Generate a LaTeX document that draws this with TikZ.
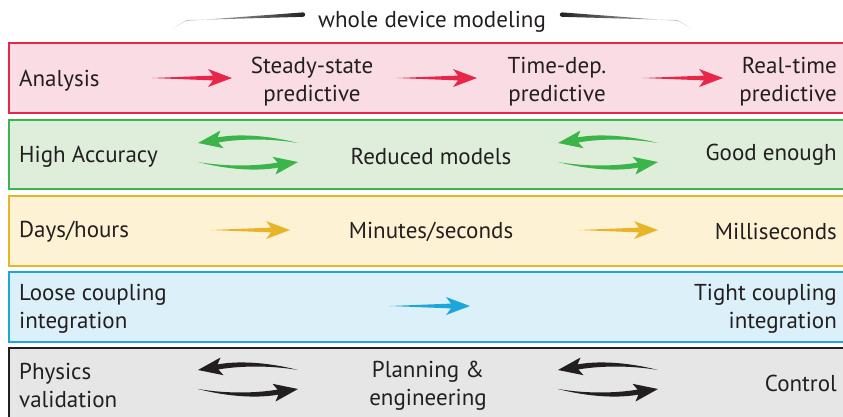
\documentclass[tikz,border=0pt]{standalone}
\usepackage{fontspec}
\setmainfont{PT Sans}
\usetikzlibrary{positioning}

\definecolor{ink}{HTML}{231F20}
\definecolor{redline}{HTML}{E8264A}
\definecolor{redfill}{HTML}{F9DCE4}
\definecolor{greenline}{HTML}{3BB54A}
\definecolor{greenfill}{HTML}{DEEEDB}
\definecolor{yellowline}{HTML}{E8B52A}
\definecolor{yellowfill}{HTML}{FDF3D4}
\definecolor{blueline}{HTML}{1DA6DA}
\definecolor{bluefill}{HTML}{DBF0F9}
\definecolor{grayline}{HTML}{231F20}
\definecolor{grayfill}{HTML}{E6E6E6}

\tikzset{
  lbl/.style={font=\fontsize{23}{28}\selectfont, text=ink, inner sep=0pt, yshift=-2.5pt},
  band/.style={line width=2.2pt},
  pics/fatarrow/.style={code={
    \fill (0,0) -- (61,-2.4) -- (56,-9) -- (80,0) -- (56,9) -- (61,2.4) -- cycle;
  }},
  pics/bentarrow/.style={code={
    \fill (0,0) .. controls (33,5.5) and (62,3.5) .. (79.6,0.6) -- (74.5,-5.2)
      -- (100,0) -- (77.5,12.5) -- (80.4,5.6) .. controls (62,9) and (33,8.5) .. (0,0) -- cycle;
  }}
}

\begin{document}
\begin{tikzpicture}[x=1pt,y=-1pt]
\clip (0,0) rectangle (843,416);

% title
\node at (432,19) [lbl] (wdm) {whole device modeling};
\shade[left color=ink!15, right color=ink] (172,29) -- (186,20.2) -- (303,16.8) arc (90:-90:2.2) -- (186,21) -- cycle;
\shade[left color=ink, right color=ink!15] (692,29) -- (678,20.2) -- (562,16.8) arc (90:270:2.2) -- (678,21) -- cycle;

% bands
\draw[band, draw=redline, fill=redfill] (9,43) rectangle (852,113);
\draw[band, draw=greenline, fill=greenfill] (9,120) rectangle (852,189);
\draw[band, draw=yellowline, fill=yellowfill] (9,196) rectangle (852,266);
\draw[band, draw=blueline, fill=bluefill] (9,272) rectangle (852,342);
\draw[band, draw=grayline, fill=grayfill] (9,348) rectangle (852,425);

% analysis
\node at (19,78) [lbl, anchor=west] (ana) {Analysis};
\node at (312,79) [lbl, align=center] (steady) {Steady-state\\predictive};
\node at (557,79) [lbl, align=center] (timedep) {Time-dep.\\predictive};
\node at (837,79) [lbl, align=right, anchor=east] (realtime) {Real-time\\predictive};
\pic[fill=redline] at (152,78) {fatarrow};
\pic[fill=redline] at (397,78) {fatarrow};
\pic[fill=redline] at (643,78) {fatarrow};

% accuracy
\node at (19,154) [lbl, anchor=west] (high) {High Accuracy};
\node at (431,154) [lbl] (reduced) {Reduced models};
\node at (837,152) [lbl, anchor=east] (good) {Good enough};
\pic[fill=greenline, rotate=180] at (298,143) {bentarrow};
\pic[fill=greenline] at (198,162) {bentarrow};
\pic[fill=greenline, rotate=180] at (658,143) {bentarrow};
\pic[fill=greenline] at (558,162) {bentarrow};

% time scale
\node at (19,229) [lbl, anchor=west] (days) {Days/hours};
\node at (431,229) [lbl] (minutes) {Minutes/seconds};
\node at (837,229) [lbl, anchor=east] (milli) {Milliseconds};
\pic[fill=yellowline] at (210,230) {fatarrow};
\pic[fill=yellowline] at (578,230) {fatarrow};

% coupling
\node at (19,306) [lbl, align=left, anchor=west] (loose) {Loose coupling\\integration};
\node at (837,306) [lbl, align=right, anchor=east] (tight) {Tight coupling\\integration};
\pic[fill=blueline] at (390,306) {fatarrow};

% use
\node at (19,383) [lbl, align=left, anchor=west] (phys) {Physics\\validation};
\node at (428,383) [lbl, align=center] (plan) {Planning \&\\engineering};
\node at (837,381) [lbl, anchor=east] (control) {Control};
\pic[fill=grayline, rotate=180] at (298,370) {bentarrow};
\pic[fill=grayline] at (198,389) {bentarrow};
\pic[fill=grayline, rotate=180] at (658,370) {bentarrow};
\pic[fill=grayline] at (558,389) {bentarrow};
\end{tikzpicture}
\end{document}
